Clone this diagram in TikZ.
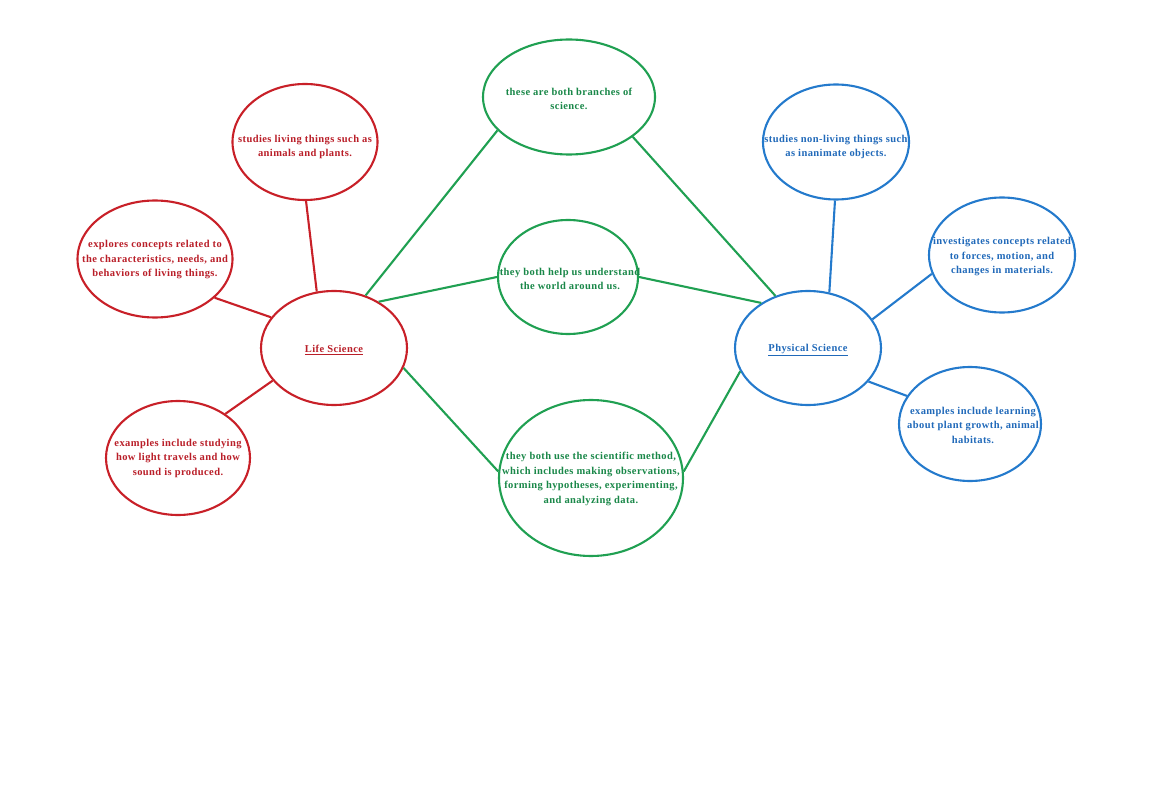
\documentclass[tikz,border=0pt]{standalone}
\usepackage{fontspec}
\setmainfont{Liberation Serif}
\newfontfamily\bubblefont[LetterSpace=4]{Liberation Serif}
\usetikzlibrary{shapes.geometric}
\definecolor{lsred}{RGB}{200,32,40}
\definecolor{lstext}{RGB}{185,30,40}
\definecolor{cgreen}{RGB}{32,160,82}
\definecolor{cgtext}{RGB}{25,135,72}
\definecolor{pblue}{RGB}{36,122,204}
\definecolor{pbtext}{RGB}{32,105,185}
\tikzset{
  bubble/.style={ellipse, draw, line width=2.1pt, inner sep=0pt},
  redb/.style={bubble, draw=lsred},
  greenb/.style={bubble, draw=cgreen},
  blueb/.style={bubble, draw=pblue},
  txt/.style={align=center, font=\bubblefont\fontsize{10.5}{14.5}\selectfont\bfseries, inner sep=0pt},
  redt/.style={txt, text=lstext},
  greent/.style={txt, text=cgtext},
  bluet/.style={txt, text=pbtext},
  redl/.style={draw=lsred, line width=2.1pt},
  greenl/.style={draw=cgreen, line width=2.1pt},
  bluel/.style={draw=pblue, line width=2.1pt},
}
\begin{document}
\begin{tikzpicture}[x=1pt,y=-1pt]
\useasboundingbox (0,0) rectangle (1151,794);
% red
\node[redb, minimum width=146pt, minimum height=114pt] (L) at (334,348) {};
\node[redt] (Lt) at (334,350) {\underline{Life Science}};
\node[redb, minimum width=145pt, minimum height=116pt] (S) at (305,142) {};
\node[redt] (St) at (305,147) {studies living things such as\\animals and plants.};
\node[redb, minimum width=155pt, minimum height=117pt] (E) at (155,259) {};
\node[redt] (Et) at (155,260) {explores concepts related to\\the characteristics, needs, and\\behaviors of living things.};
\node[redb, minimum width=144pt, minimum height=114pt] (X) at (178,458) {};
\node[redt] (Xt) at (178,458) {examples include studying\\how light travels and how\\sound is produced.};
% green
\node[greenb, minimum width=172pt, minimum height=115pt] (B) at (569,97) {};
\node[greent] (Bt) at (569,99) {these are both branches of\\science.};
\node[greenb, minimum width=140pt, minimum height=114pt] (H) at (568,277) {};
\node[greent] (Ht) at (570,279) {they both help us understand\\the world around us.};
\node[greenb, minimum width=184pt, minimum height=156pt] (M) at (591,478) {};
\node[greent] (Mt) at (591,479) {they both use the scientific method,\\which includes making observations,\\forming hypotheses, experimenting,\\and analyzing data.};
% blue
\node[blueb, minimum width=146pt, minimum height=114pt] (P) at (808,348) {};
\node[bluet] (Pt) at (808,350) {\underline{Physical Science}};
\node[blueb, minimum width=146pt, minimum height=115pt] (N) at (836,142) {};
\node[bluet] (Nt) at (836,147) {studies non-living things such\\as inanimate objects.};
\node[blueb, minimum width=146pt, minimum height=115pt] (I) at (1002,255) {};
\node[bluet] (It) at (1002,257) {investigates concepts related\\to forces, motion, and\\changes in materials.};
\node[blueb, minimum width=142pt, minimum height=114pt] (Y) at (970,424) {};
\node[bluet] (Yt) at (973,425) {examples include learning\\about plant growth, animal\\habitats.};
% connectors
\draw[redl] (L.107) -- (S.-89);
\draw[redl] (L.154) -- (E.-33);
\draw[redl] (L.208) -- (X.43);
\draw[greenl] (L.59) -- (B.205);
\draw[greenl] (L.46) -- (H.180);
\draw[greenl] (L.-16) -- (M.176);
\draw[greenl] (B.-32) -- (P.122);
\draw[greenl] (H.0) -- (P.136);
\draw[greenl] (M.4) -- (P.199);
\draw[bluel] (P.69) -- (N.-91);
\draw[bluel] (P.24) -- (I.195);
\draw[bluel] (P.-29) -- (Y.156);
\end{tikzpicture}
\end{document}
